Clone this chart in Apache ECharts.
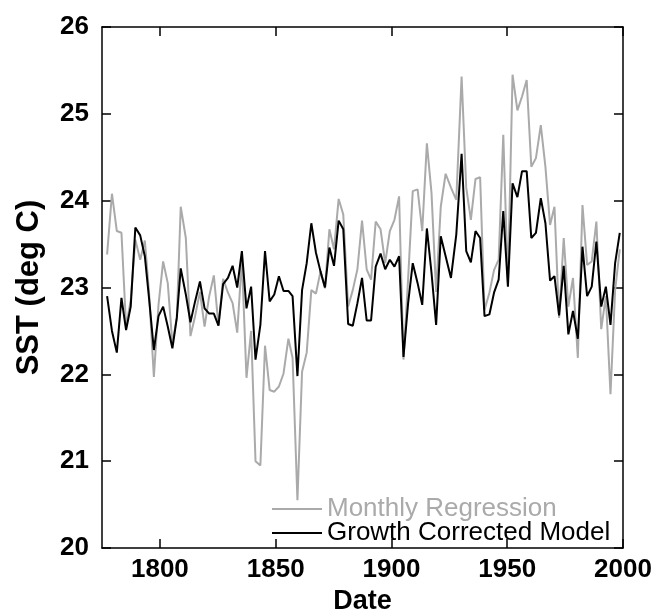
<!DOCTYPE html>
<html>
<head>
<meta charset="utf-8">
<script src="https://cdn.jsdelivr.net/npm/echarts@6/dist/echarts.min.js"></script>
<style>
  html, body { margin: 0; padding: 0; background: #fff; }
  #chart { width: 666px; height: 612px; }
</style>
</head>
<body>
<div id="chart"></div>
<script>
// Sample years (roughly biennial)
const years = [
  1777.2, 1779.3, 1781.4, 1783.4, 1785.4, 1787.4, 1789.4, 1791.5, 1793.5, 1795.3,
  1797.4, 1799.4, 1801.4, 1803.4, 1805.4, 1807.3, 1809.0, 1811.2, 1813.2, 1815.2,
  1817.3, 1819.3, 1821.3, 1823.3, 1825.3, 1827.3, 1829.4, 1831.4, 1833.4, 1835.4,
  1837.4, 1839.4, 1841.3, 1843.4, 1845.4, 1847.4, 1849.4, 1851.4, 1853.4, 1855.5,
  1857.3, 1859.4, 1861.4, 1863.4, 1865.4, 1867.4, 1869.4, 1871.3, 1873.2, 1875.2,
  1877.2, 1879.2, 1881.3, 1883.3, 1885.3, 1887.3, 1889.3, 1891.2, 1893.2, 1895.3,
  1897.3, 1899.3, 1901.3, 1903.3, 1905.2, 1907.2, 1909.2, 1911.3, 1913.3, 1915.3,
  1917.3, 1919.3, 1921.3, 1923.4, 1925.7, 1928.0, 1930.3, 1932.3, 1934.3, 1936.3,
  1938.3, 1940.2, 1942.3, 1944.3, 1946.3, 1948.3, 1950.3, 1952.3, 1954.4, 1956.4,
  1958.4, 1960.4, 1962.4, 1964.5, 1966.5, 1968.5, 1970.4, 1972.4, 1974.4, 1976.4,
  1978.4, 1980.5, 1982.5, 1984.5, 1986.5, 1988.5, 1990.6, 1992.6, 1994.6, 1996.6,
  1998.6
];

// Growth Corrected Model (black)
const growthCorrected = [
  22.90, 22.50, 22.25, 22.88, 22.51, 22.78, 23.69, 23.60, 23.36, 22.88,
  22.28, 22.67, 22.78, 22.55, 22.30, 22.65, 23.22, 22.92, 22.60, 22.84,
  23.07, 22.76, 22.70, 22.70, 22.56, 23.04, 23.11, 23.25, 23.00, 23.42,
  22.76, 23.01, 22.17, 22.57, 23.42, 22.84, 22.92, 23.13, 22.96, 22.96,
  22.90, 21.98, 22.97, 23.28, 23.74, 23.40, 23.18, 23.00, 23.46, 23.25,
  23.77, 23.67, 22.58, 22.56, 22.82, 23.11, 22.62, 22.62, 23.24, 23.39,
  23.21, 23.32, 23.24, 23.36, 22.20, 22.82, 23.28, 23.05, 22.80, 23.68,
  23.17, 22.57, 23.59, 23.36, 23.11, 23.61, 24.54, 23.42, 23.29, 23.65,
  23.57, 22.67, 22.69, 22.94, 23.09, 23.88, 23.01, 24.20, 24.04, 24.34,
  24.34, 23.57, 23.63, 24.03, 23.74, 23.08, 23.13, 22.68, 23.25, 22.46,
  22.73, 22.41, 23.47, 22.90, 23.01, 23.53, 22.78, 23.01, 22.57, 23.28,
  23.63
];

// Monthly Regression (grey)
const monthlyRegression = [
  23.38, 24.08, 23.65, 23.63, 22.55, 22.85, 23.55, 23.32, 23.54, 22.95,
  21.97, 22.80, 23.30, 23.05, 22.35, 22.65, 23.93, 23.57, 22.44, 22.67,
  22.95, 22.55, 22.90, 23.14, 22.56, 23.10, 22.94, 22.82, 22.48, 23.32,
  21.96, 22.50, 21.00, 20.95, 22.33, 21.82, 21.80, 21.86, 22.01, 22.41,
  22.19, 20.55, 22.03, 22.25, 22.97, 22.93, 23.19, 22.99, 23.67, 23.44,
  24.02, 23.84, 22.78, 22.97, 23.21, 23.77, 23.21, 23.09, 23.76, 23.67,
  23.28, 23.65, 23.78, 24.05, 22.17, 23.10, 24.11, 24.13, 23.65, 24.66,
  24.09, 22.95, 23.93, 24.31, 24.15, 24.01, 25.43, 24.15, 23.78, 24.25,
  24.27, 22.74, 22.94, 23.20, 23.32, 24.76, 23.05, 25.45, 25.04, 25.20,
  25.39, 24.39, 24.49, 24.87, 24.39, 23.72, 23.93, 22.65, 23.57, 22.78,
  23.11, 22.19, 23.95, 23.26, 23.30, 23.76, 22.52, 22.90, 21.77, 22.97,
  23.44
];

const xTicks = [1800, 1850, 1900, 1950, 2000];
const seriesNames = ['Monthly Regression', 'Growth Corrected Model'];

const pairs = vals => years.map((y, i) => [y, vals[i]]);

const FONT = '"Liberation Sans", Arial, sans-serif';
const chart = echarts.init(document.getElementById('chart'), null, { renderer: 'canvas' });

const baseAxisLine = { show: true, lineStyle: { color: '#000', width: 1.5 } };
const tick = { show: true, inside: true, length: 9, lineStyle: { color: '#000', width: 1.5 } };

chart.setOption({
  animation: false,
  backgroundColor: '#fff',
  grid: { left: 102, right: 43, top: 27, bottom: 64, containLabel: false, outerBoundsMode: 'none' },
  legend: {
    orient: 'vertical',
    left: 272,
    top: 496,
    padding: 0,
    icon: 'rect',
    itemWidth: 50,
    itemHeight: 2,
    itemGap: -2,
    selectedMode: false,
    textStyle: { fontFamily: FONT, fontSize: 26, lineHeight: 24 },
    data: [
      { name: seriesNames[0], textStyle: { color: '#aaaaaa' } },
      { name: seriesNames[1], textStyle: { color: '#000000' } }
    ]
  },
  xAxis: [
    {
      type: 'value', position: 'bottom', min: 1775, max: 2000,
      name: 'Date', nameLocation: 'middle', nameGap: 35,
      nameTextStyle: { fontFamily: FONT, fontSize: 27, fontWeight: 'bold', color: '#000' },
      axisLine: baseAxisLine,
      axisTick: Object.assign({}, tick, { customValues: xTicks }),
      axisLabel: {
        customValues: xTicks, margin: 9, fontFamily: FONT, fontSize: 26, fontWeight: 'bold', color: '#000',
        formatter: v => String(v)
      },
      splitLine: { show: false }
    },
    {
      type: 'value', position: 'top', min: 1775, max: 2000,
      axisLine: baseAxisLine,
      axisTick: Object.assign({}, tick, { customValues: xTicks }),
      axisLabel: { show: false },
      splitLine: { show: false }
    }
  ],
  yAxis: [
    {
      type: 'value', position: 'left', min: 20, max: 26, interval: 1,
      name: 'SST (deg C)', nameLocation: 'middle', nameGap: 57,
      nameTextStyle: { fontFamily: FONT, fontSize: 31, fontWeight: 'bold', color: '#000' },
      axisLine: baseAxisLine,
      axisTick: tick,
      axisLabel: { margin: 13, fontFamily: FONT, fontSize: 26, fontWeight: 'bold', color: '#000' },
      splitLine: { show: false }
    },
    {
      type: 'value', position: 'right', min: 20, max: 26, interval: 1,
      axisLine: baseAxisLine,
      axisTick: tick,
      axisLabel: { show: false },
      splitLine: { show: false }
    }
  ],
  series: [
    {
      name: seriesNames[0], type: 'line', xAxisIndex: 0, yAxisIndex: 0,
      data: pairs(monthlyRegression), showSymbol: false, symbol: 'none',
      lineStyle: { color: '#aaaaaa', width: 2 }, itemStyle: { color: '#aaaaaa' }, z: 2
    },
    {
      name: seriesNames[1], type: 'line', xAxisIndex: 0, yAxisIndex: 0,
      data: pairs(growthCorrected), showSymbol: false, symbol: 'none',
      lineStyle: { color: '#000000', width: 2 }, itemStyle: { color: '#000000' }, z: 3
    }
  ]
});
</script>
</body>
</html>
